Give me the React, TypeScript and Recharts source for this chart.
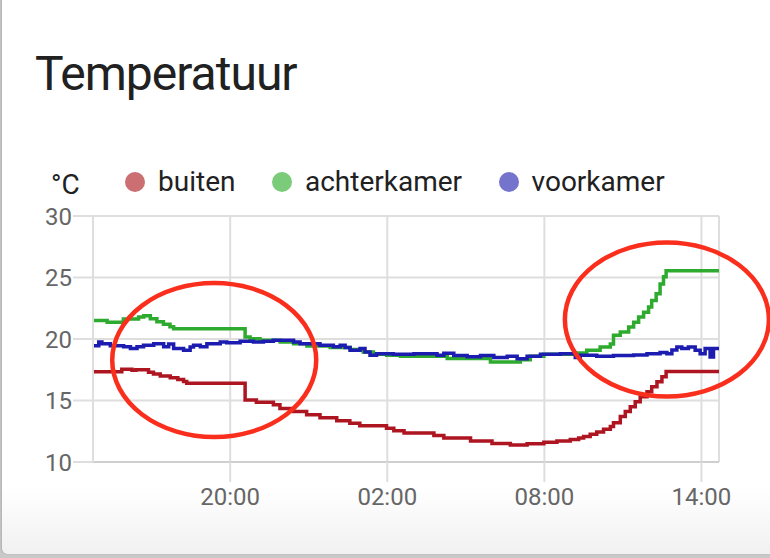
import React from 'react'
import {
  LineChart, Line, XAxis, YAxis, CartesianGrid, ReferenceDot,
} from 'recharts'

// hours since midnight of day 1 (so 26 = 02:00 next day)
const timeTicks = [20, 26, 32, 38]
const tempTicks = [10, 15, 20, 25, 30]

const buitenTimes = [
  14.76, 15.86, 16.25, 16.4, 16.88, 17.07, 17.33, 17.71, 18.0, 18.22, 18.34,
  20.57, 21.0, 21.65, 21.9, 22.41, 22.92, 23.43, 24.07, 24.57, 24.95, 25.97,
  26.25, 26.64, 27.78, 28.16, 29.18, 30.0, 30.7, 31.34, 31.98, 32.48, 32.99,
  33.31, 33.5, 33.75, 34.0, 34.26, 34.52, 34.64, 34.9, 35.09, 35.28, 35.47,
  35.66, 35.92, 36.1, 36.3, 36.49, 36.65, 38.67,
]
const buitenValues = [
  17.34, 17.55, 17.45, 17.5, 17.3, 17.15, 17.0, 16.85, 16.7, 16.55, 16.4,
  15.05, 14.85, 14.65, 14.35, 14.1, 13.85, 13.6, 13.35, 13.15, 12.95, 12.75,
  12.55, 12.35, 12.15, 11.95, 11.7, 11.5, 11.38, 11.48, 11.6, 11.7, 11.82,
  11.95, 12.08, 12.26, 12.43, 12.67, 12.88, 13.2, 13.69, 14.1, 14.5, 14.9,
  15.31, 15.71, 16.12, 16.52, 16.93, 17.35, 17.35,
]

const achterTimes = [
  14.76, 15.3, 15.92, 16.5, 16.7, 16.95, 17.2, 17.45, 17.7, 17.84, 20.57,
  20.76, 21.14, 21.91, 22.42, 22.93, 23.82, 24.58, 25.08, 25.47, 25.98, 26.5,
  28.29, 29.94, 31.08, 31.46, 31.98, 33.24, 33.62, 34.13, 34.52, 34.64, 34.9,
  35.22, 35.41, 35.6, 35.79, 35.98, 36.1, 36.27, 36.42, 36.55, 36.65, 38.67,
]
const achterValues = [
  21.5, 21.37, 21.62, 21.78, 21.9, 21.65, 21.4, 21.2, 21.0, 20.84, 20.16,
  20.03, 19.9, 19.76, 19.62, 19.43, 19.3, 19.14, 18.95, 18.76, 18.68, 18.6,
  18.41, 18.14, 18.32, 18.6, 18.76, 18.87, 19.08, 19.35, 19.6, 20.3, 20.57,
  20.97, 21.37, 21.78, 22.18, 22.6, 23.13, 23.67, 24.47, 25.07, 25.55, 25.55,
]

const voorTimes = [
  14.76, 14.98, 15.1, 15.42, 15.93, 16.19, 16.44, 16.69, 17.08, 17.46, 17.65,
  17.84, 18.22, 18.47, 18.6, 18.86, 19.11, 19.62, 19.87, 20.38, 20.89, 21.27,
  21.65, 22.42, 22.67, 23.43, 23.94, 24.2, 24.39, 24.58, 24.96, 25.15, 25.34,
  25.59, 26.23, 27.02, 27.9, 28.16, 28.54, 29.05, 29.56, 30.07, 30.58, 30.96,
  31.34, 31.85, 32.61, 33.18, 33.37, 34.0, 34.64, 35.41, 35.92, 36.42, 36.68,
  36.87, 37.06, 37.25, 37.5, 37.76, 37.95, 38.14, 38.33, 38.46, 38.67,
]
const voorValues = [
  19.45, 19.76, 19.62, 19.45, 19.38, 19.22, 19.38, 19.5, 19.62, 19.38, 19.6,
  19.22, 19.08, 19.35, 19.5, 19.38, 19.62, 19.76, 19.7, 19.82, 19.76, 19.82,
  19.89, 19.76, 19.62, 19.5, 19.38, 19.5, 19.3, 19.08, 19.22, 18.95, 18.68,
  18.81, 18.76, 18.81, 18.68, 18.85, 18.65, 18.55, 18.65, 18.5, 18.6, 18.4,
  18.6, 18.76, 18.81, 18.5, 18.68, 18.6, 18.65, 18.7, 18.81, 18.9, 18.8,
  19.1, 19.35, 19.22, 19.35, 19.08, 18.81, 19.22, 18.54, 19.22, 19.22,
]

// the two hand-drawn circles: centre in chart units
const markTimes = [19.39, 36.68]
const markValues = [18.29, 21.59]

const series = [
  { name: 'buiten', times: buitenTimes, values: buitenValues, stroke: '#ad1520', dot: '#cc6f72' },
  { name: 'achterkamer', times: achterTimes, values: achterValues, stroke: '#2eaa2e', dot: '#7acc7a' },
  { name: 'voorkamer', times: voorTimes, values: voorValues, stroke: '#1c1cb0', dot: '#7474cc' },
]

const toPoints = (times: number[], values: number[]) =>
  times.map((t, i) => ({ t, v: values[i] }))

const fmtHour = (h: number) => `${String(h % 24).padStart(2, '0')}:00`

const FONT = 'Roboto, "Noto Sans", sans-serif'

function Ellipse(props: { cx?: number; cy?: number }) {
  if (props.cx == null || props.cy == null) return null
  return (
    <ellipse cx={props.cx} cy={props.cy} rx={102} ry={77}
      fill="none" stroke="#fa2e1c" strokeWidth={4.5} />
  )
}

export default function App() {
  return (
    <div style={{ position: 'fixed', left: 0, top: 0, width: 770, height: 558, background: '#c9c9c9', overflow: 'hidden', fontFamily: FONT }}>
      <div style={{
        position: 'absolute', left: 2, top: -6, width: 800, height: 560,
        borderRadius: 6, background: 'linear-gradient(#ffffff 0%, #ffffff 88%, #f1f1f1 100%)',
        boxShadow: '-1px 0 2px rgba(0,0,0,0.12)',
      }} />
      <div style={{ position: 'absolute', left: 35, top: 50, fontSize: 48, letterSpacing: -1, lineHeight: 1, color: '#212121' }}>
        Temperatuur
      </div>
      <div style={{ position: 'absolute', left: 51, top: 171, fontSize: 28, lineHeight: 1, color: '#212121' }}>
        °C
      </div>
      <div style={{ position: 'absolute', left: 125, top: 168, display: 'flex', alignItems: 'center', height: 28 }}>
        {series.map((s) => (
          <div key={s.name} style={{ display: 'flex', alignItems: 'center', marginRight: 36.5 }}>
            <span style={{ width: 20, height: 20, borderRadius: 10, background: s.dot, marginRight: 13 }} />
            <span style={{ fontSize: 28, lineHeight: 1, color: '#212121' }}>{s.name}</span>
          </div>
        ))}
      </div>
      <div style={{ position: 'absolute', left: 0, top: 0 }}>
        <LineChart width={770} height={558} margin={{ top: 216, right: 51, bottom: 56, left: 0 }}
          style={{ overflow: 'visible' }}>
          <CartesianGrid stroke="#dedede" strokeWidth={2} />
          <XAxis dataKey="t" type="number" domain={[14.76, 38.67]} ticks={timeTicks}
            allowDataOverflow tickFormatter={fmtHour} height={40}
            tick={{ fontSize: 24, fill: '#666', fontFamily: FONT }}
            tickSize={20} tickMargin={6}
            tickLine={{ stroke: '#dedede', strokeWidth: 2 }}
            axisLine={{ stroke: '#cfcfcf', strokeWidth: 2 }} />
          <YAxis type="number" domain={[10, 30]} ticks={tempTicks} width={93}
            tick={{ fontSize: 24, fill: '#666', fontFamily: FONT }}
            tickSize={20} tickMargin={1}
            tickLine={{ stroke: '#dedede', strokeWidth: 2 }}
            axisLine={{ stroke: '#dedede', strokeWidth: 2 }} />
          {series.map((s) => (
            <Line key={s.name} data={toPoints(s.times, s.values)} dataKey="v" name={s.name}
              type="stepAfter" stroke={s.stroke} strokeWidth={3.5} dot={false}
              isAnimationActive={false} />
          ))}
          {markTimes.map((t, i) => (
            <ReferenceDot key={i} x={t} y={markValues[i]} r={1} ifOverflow="visible"
              shape={(p: any) => <Ellipse cx={p.cx} cy={p.cy} />} />
          ))}
        </LineChart>
      </div>
    </div>
  )
}
